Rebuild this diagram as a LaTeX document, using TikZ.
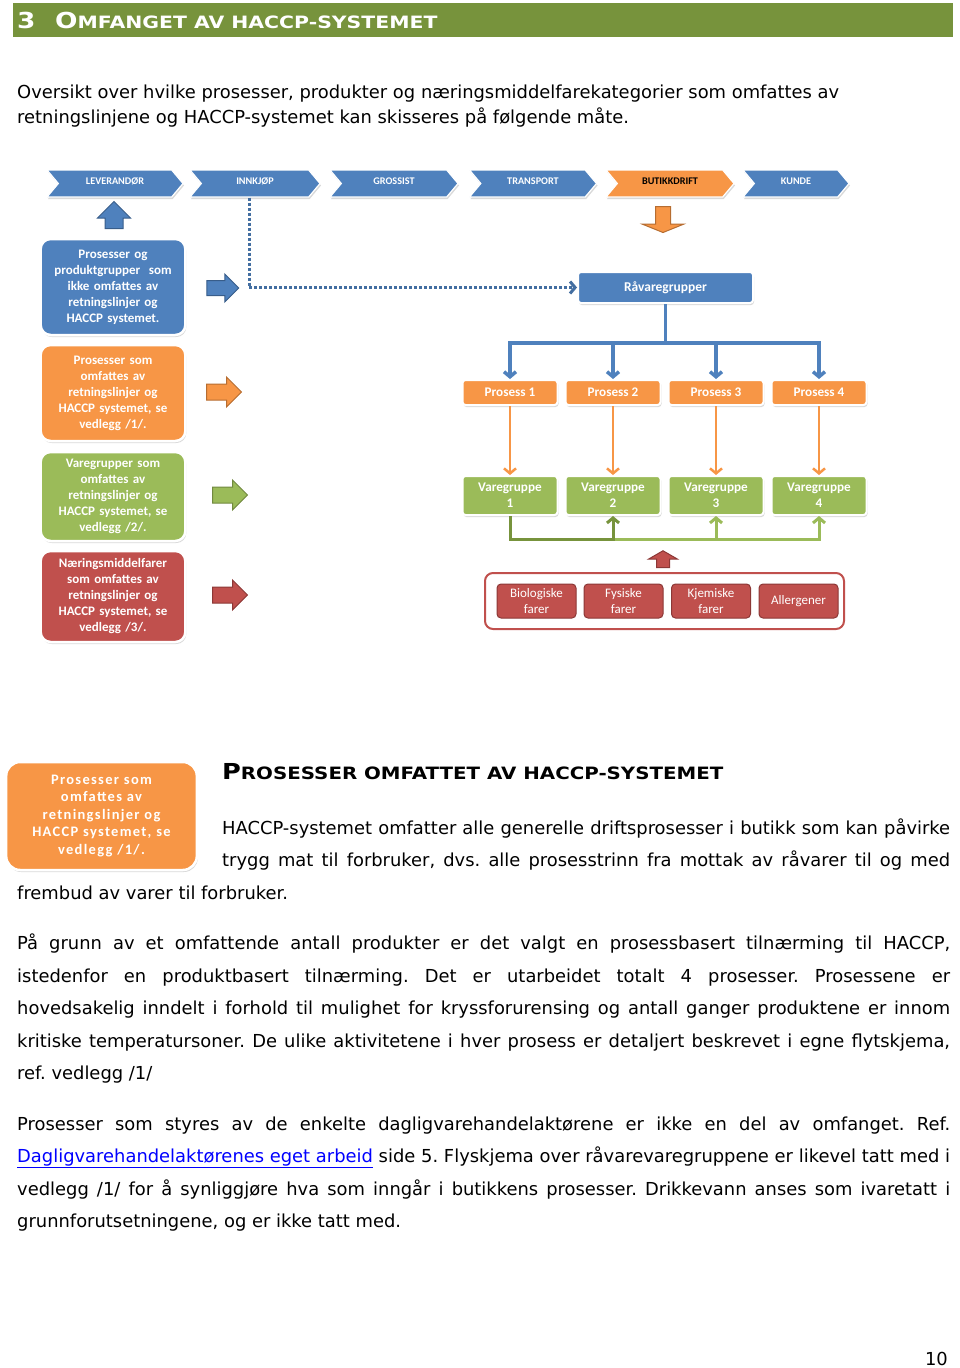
\documentclass[tikz,border=0pt]{standalone}
\usepackage{fontspec}
\setmainfont{DejaVu Sans}
\newfontfamily\calfont{Carlito}
\newfontfamily\calwide[LetterSpace=9]{Carlito}
\usetikzlibrary{shapes.symbols,shapes.arrows,shadows,arrows.meta}
\definecolor{hdgreen}{HTML}{77933C}
\definecolor{ofblue}{HTML}{4F81BD}
\definecolor{oforange}{HTML}{F79646}
\definecolor{ofgreen}{HTML}{9BBB59}
\definecolor{ofred}{HTML}{C0504D}
\definecolor{dkblue}{HTML}{385D8A}
\definecolor{dkorange}{HTML}{B66D31}
\definecolor{dkgreen}{HTML}{71893F}
\definecolor{dkred}{HTML}{8C3836}
\definecolor{linkblue}{HTML}{0000FF}
\newcommand\bigsc[3]{\scalebox{#1}[1]{{\fontsize{22}{22}\selectfont #2}{\fontsize{17}{17}\selectfont #3}}}
\newcommand\jline[2]{\makebox[#1][s]{#2}}
\frenchspacing

\begin{document}
\begin{tikzpicture}[
	x = 1pt, y = -1pt,
	shade/.style = {drop shadow = {shadow xshift = 1pt, shadow yshift = -2pt, opacity = .3}},
	chev/.style = {signal, signal from = west, signal to = east, signal pointer angle = 100, minimum height = 27pt, inner sep = 0pt, draw = white, line width = 1.2pt, fill = ofblue, text = white, font = \calfont\bfseries\fontsize{10.2}{10.2}\selectfont, shade},
	sidebox/.style = {rounded corners = 10pt, draw = white, line width = 2.5pt, minimum width = 143pt, text width = 138pt, align = center, text = white, font = \calfont\bfseries\fontsize{13}{16}\selectfont, shade},
	procbox/.style = {rounded corners = 3pt, draw = white, line width = 2pt, minimum width = 95pt, align = center, text = white, font = \calfont\bfseries\fontsize{13.2}{16}\selectfont, shade},
	hazbox/.style = {rounded corners = 4pt, draw = dkred, line width = 1pt, fill = ofred, minimum width = 79pt, minimum height = 34pt, align = center, text = white, font = \calfont\fontsize{13}{15.5}\selectfont},
	blockarrow/.style = {single arrow, line width = 1pt},
	con/.style = {line width = 3pt, -{Straight Barb[length = 5pt, width = 12pt]}},
	bodytext/.style = {anchor = base west, inner sep = 0pt, font = \fontsize{17.9}{20}\selectfont}
]
\useasboundingbox (0,0) rectangle (960,1368);

\node[fill = hdgreen, anchor = north west, minimum width = 940pt, minimum height = 34pt, inner sep = 0pt] (bar) at (13,3) {};
\node[anchor = base west, inner sep = 0pt, text = white, font = \bfseries\fontsize{22}{22}\selectfont] (secnum) at (17,28) {\scalebox{1.2}[1]{3}};
\node[anchor = base west, inner sep = 0pt, text = white, font = \bfseries] (sectitle) at (55,28) {\bigsc{1.2}{O}{MFANGET AV HACCP-SYSTEMET}};

\node[bodytext] (intro1) at (17,98) {Oversikt over hvilke prosesser, produkter og næringsmiddelfarekategorier som omfattes av};
\node[bodytext] (intro2) at (17,123) {retningslinjene og HACCP-systemet kan skisseres på følgende måte.};

\node[chev, minimum width = 136pt] (lev) at (115,183.5) {\raisebox{4pt}{LEVERANDØR}};
\node[chev, minimum width = 130pt] (innkjop) at (255,183.5) {\raisebox{4pt}{INNKJØP}};
\node[chev, minimum width = 128pt] (grossist) at (394,183.5) {\raisebox{4pt}{GROSSIST}};
\node[chev, minimum width = 127pt] (transport) at (533,183.5) {\raisebox{4pt}{TRANSPORT}};
\node[chev, minimum width = 128pt, fill = oforange, text = black] (butikk) at (670,183.5) {\raisebox{4pt}{BUTIKKDRIFT}};
\node[chev, minimum width = 106pt] (kunde) at (796,183.5) {\raisebox{4pt}{KUNDE}};

\node[blockarrow, fill = ofblue, draw = dkblue, shape border rotate = 90, inner sep = 8.5pt, minimum height = 27pt, single arrow head extend = 7.5pt] (uparrow) at (114,219.5) {};
\node[blockarrow, fill = oforange, draw = dkorange, shape border rotate = 270, single arrow tip angle = 136, inner sep = 7pt, minimum height = 26pt, single arrow head extend = 13pt] (downarrow) at (663,218) {};

\node[sidebox, fill = ofblue, minimum height = 96pt] (outside) at (113,287) {Prosesser og\\produktgrupper~ som\\ikke omfattes av\\retningslinjer og\\HACCP systemet.};
\node[sidebox, fill = oforange, minimum height = 96pt] (procscope) at (113,393) {Prosesser som\\omfattes av\\retningslinjer og\\HACCP systemet, se\\vedlegg /1/.};
\node[sidebox, fill = ofgreen, minimum height = 89pt] (groupscope) at (113,496.5) {Varegrupper som\\omfattes av\\retningslinjer og\\HACCP systemet, se\\vedlegg /2/.};
\node[sidebox, fill = ofred, minimum height = 91pt] (hazscope) at (113,596.5) {Næringsmiddelfarer\\som omfattes av\\retningslinjer og\\HACCP systemet, se\\vedlegg /3/.};

\node[blockarrow, fill = ofblue, draw = dkblue, inner xsep = 0pt, inner ysep = 7pt, minimum height = 32pt, single arrow head extend = 6.5pt] (bluearrow) at (219,288) {};
\node[blockarrow, fill = oforange, draw = dkorange, inner xsep = 0pt, inner ysep = 7.5pt, minimum height = 35pt, single arrow head extend = 7pt] (orangearrow) at (220,392) {};
\node[blockarrow, fill = ofgreen, draw = dkgreen, inner xsep = 0pt, inner ysep = 7.5pt, minimum height = 35pt, single arrow head extend = 7pt] (greenarrow) at (226,495) {};
\node[blockarrow, fill = ofred, draw = dkred, inner xsep = 0pt, inner ysep = 7.5pt, minimum height = 35pt, single arrow head extend = 7pt] (redarrow) at (226,595) {};

\node[procbox, fill = ofblue, minimum width = 175pt, minimum height = 31pt, font = \calfont\bfseries\fontsize{13.5}{16}\selectfont] (ravare) at (665.5,287.5) {Råvaregrupper};
\coordinate (hub) at (665.5,343);

\node[procbox, fill = oforange, minimum height = 25pt] (p1) at (510,392.5) {Prosess 1};
\node[procbox, fill = oforange, minimum height = 25pt] (p2) at (613,392.5) {Prosess 2};
\node[procbox, fill = oforange, minimum height = 25pt] (p3) at (716,392.5) {Prosess 3};
\node[procbox, fill = oforange, minimum height = 25pt] (p4) at (819,392.5) {Prosess 4};

\node[procbox, fill = ofgreen, minimum height = 39pt] (vg1) at (510,495.5) {Varegruppe\\1};
\node[procbox, fill = ofgreen, minimum height = 39pt] (vg2) at (613,495.5) {Varegruppe\\2};
\node[procbox, fill = ofgreen, minimum height = 39pt] (vg3) at (716,495.5) {Varegruppe\\3};
\node[procbox, fill = ofgreen, minimum height = 39pt] (vg4) at (819,495.5) {Varegruppe\\4};
\coordinate (vgbase) at (510,539);

\node[blockarrow, fill = ofred, draw = dkred, shape border rotate = 90, single arrow tip angle = 120, inner sep = 6pt, minimum height = 15pt, single arrow head extend = 8pt] (hazarrow) at (663,561) {};
\node[rounded corners = 8pt, draw = ofred, line width = 2pt, fill = white, minimum width = 359pt, minimum height = 56pt] (hazards) at (664.5,601) {};
\node[hazbox] (bio) at (536.5,601) {Biologiske\\farer};
\node[hazbox] (fys) at (623.5,601) {Fysiske\\farer};
\node[hazbox] (kjem) at (711,601) {Kjemiske\\farer};
\node[hazbox] (allerg) at (798.5,601) {Allergener};

\draw[con, dash pattern = on 3pt off 2pt, draw = ofblue!85!black] ([xshift = -6pt]innkjop.south) |- (ravare.west);
\draw[line width = 3.5pt, draw = ofblue] (ravare.south) -- (hub);
\draw[con, line width = 3.5pt, draw = ofblue] (hub) -| (p1.north);
\draw[con, line width = 3.5pt, draw = ofblue] (hub) -| (p2.north);
\draw[con, line width = 3.5pt, draw = ofblue] (hub) -| (p3.north);
\draw[con, line width = 3.5pt, draw = ofblue] (hub) -| (p4.north);
\draw[con, line width = 2.5pt, draw = oforange] (p1) -- (vg1);
\draw[con, line width = 2.5pt, draw = oforange] (p2) -- (vg2);
\draw[con, line width = 2.5pt, draw = oforange] (p3) -- (vg3);
\draw[con, line width = 2.5pt, draw = oforange] (p4) -- (vg4);
\draw[con, draw = ofgreen] (vg1.south) -- (vgbase) -| (vg4.south);
\draw[con, draw = ofgreen] (vg1.south) -- (vgbase) -| (vg3.south);
\draw[con, draw = hdgreen] (vg1.south) -- (vgbase) -| (vg2.south);

\node[sidebox, fill = oforange, minimum width = 190pt, text width = 184pt, minimum height = 108pt, rounded corners = 14pt, font = \calwide\bfseries\fontsize{14.5}{17.5}\selectfont] (procsmall) at (101.5,816) {Prosesser som\\omfattes av\\retningslinjer og\\HACCP systemet, se\\vedlegg /1/.};
\node[anchor = base west, inner sep = 0pt, font = \bfseries] (subtitle) at (222,779) {\bigsc{1.165}{P}{ROSESSER OMFATTET AV HACCP-SYSTEMET}};

\node[bodytext] (s1) at (222,834) {\jline{728pt}{HACCP-systemet omfatter alle generelle driftsprosesser i butikk som kan påvirke}};
\node[bodytext] (s2) at (222,866) {\jline{728pt}{trygg mat til forbruker, dvs. alle prosesstrinn fra mottak av råvarer til og med}};
\node[bodytext] (s3) at (17,899) {frembud av varer til forbruker.};

\node[bodytext] (a1) at (17,949) {\jline{933pt}{På grunn av et omfattende antall produkter er det valgt en prosessbasert tilnærming til HACCP,}};
\node[bodytext] (a2) at (17,982) {\jline{933pt}{istedenfor en produktbasert tilnærming. Det er utarbeidet totalt 4 prosesser. Prosessene er}};
\node[bodytext] (a3) at (17,1014) {\jline{933pt}{hovedsakelig inndelt i forhold til mulighet for kryssforurensing og antall ganger produktene er innom}};
\node[bodytext] (a4) at (17,1047) {\jline{933pt}{kritiske temperatursoner. De ulike aktivitetene i hver prosess er detaljert beskrevet i egne flytskjema,}};
\node[bodytext] (a5) at (17,1079) {ref. vedlegg /1/};

\node[bodytext] (b1) at (17,1130) {\jline{933pt}{Prosesser som styres av de enkelte dagligvarehandelaktørene er ikke en del av omfanget. Ref.}};
\node[bodytext] (b2) at (17,1162) {\jline{933pt}{\textcolor{linkblue}{\underline{Dagligvarehandelaktørenes eget arbeid}} side 5. Flyskjema over råvarevaregruppene er likevel tatt med i}};
\node[bodytext] (b3) at (17,1195) {\jline{933pt}{vedlegg /1/ for å synliggjøre hva som inngår i butikkens prosesser. Drikkevann anses som ivaretatt i}};
\node[bodytext] (b4) at (17,1227) {grunnforutsetningene, og er ikke tatt med.};

\node[anchor = base east, inner sep = 0pt, font = \fontsize{17.9}{20}\selectfont] (pagenum) at (948,1365) {10};
\end{tikzpicture}
\end{document}
